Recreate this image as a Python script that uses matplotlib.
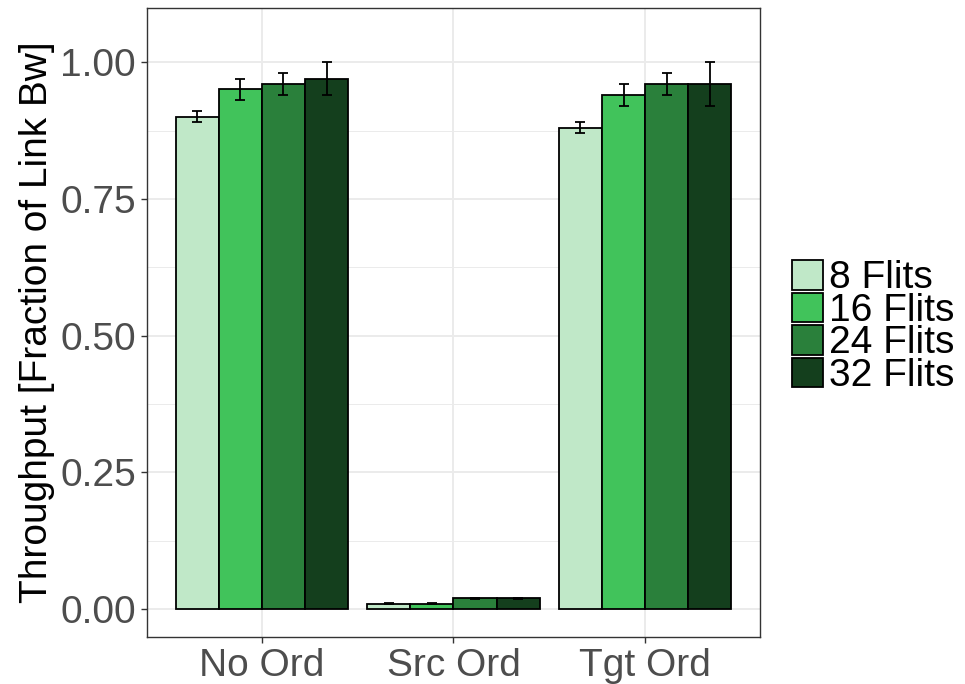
import numpy as np
import matplotlib.pyplot as plt
from matplotlib.patches import Patch
from matplotlib.ticker import MultipleLocator

plt.rcParams['font.family'] = ['Liberation Sans', 'DejaVu Sans']

groups = ["No Ord", "Src Ord", "Tgt Ord"]
sizes = ["8 Flits", "16 Flits", "24 Flits", "32 Flits"]
throughput = {
    "8 Flits": [0.90, 0.01, 0.88],
    "16 Flits": [0.95, 0.01, 0.94],
    "24 Flits": [0.96, 0.02, 0.96],
    "32 Flits": [0.97, 0.02, 0.96],
}
err = {
    "8 Flits": [0.01, 0.001, 0.01],
    "16 Flits": [0.02, 0.001, 0.02],
    "24 Flits": [0.02, 0.001, 0.02],
    "32 Flits": [0.03, 0.001, 0.04],
}
colors = ["#c0e8c8", "#41c35b", "#2a803b", "#143f1d"]

fig = plt.figure(figsize=(9.65, 6.84), dpi=100)
ax = fig.add_axes([147/965, 1-637/684, (760-147)/965, (637-8)/684])

x = np.arange(1, len(groups) + 1)
w = 0.225
for i, s in enumerate(sizes):
    pos = x + (i - 1.5) * w
    ax.bar(pos, throughput[s], width=w, color=colors[i], edgecolor="black",
           linewidth=1.3, zorder=3)
    ax.errorbar(pos, throughput[s], yerr=err[s], fmt="none", ecolor="black",
                elinewidth=1.3, capsize=3.3, capthick=1.3, zorder=4)

ax.set_xlim(0.4, 3.6)
ax.set_ylim(-0.051, 1.099)
ax.set_xticks(x)
ax.set_xticklabels(groups)
ax.yaxis.set_minor_locator(MultipleLocator(0.125))
ax.set_yticks([0, 0.25, 0.5, 0.75, 1.0])
ax.set_yticklabels(["0.00", "0.25", "0.50", "0.75", "1.00"])
ax.grid(which="major", color="#ebebeb", linewidth=1.4, zorder=0)
ax.grid(which="minor", axis="y", color="#ebebeb", linewidth=0.7, zorder=0)
ax.tick_params(which="major", labelsize=28, labelcolor="#4d4d4d", color="#333333",
               length=4, width=1, pad=4)
ax.tick_params(which="minor", length=0)
for sp in ax.spines.values():
    sp.set_color("#333333")
    sp.set_linewidth(1)
ax.set_ylabel("Throughput [Fraction of Link Bw]", fontsize=28, labelpad=4)

handles = [Patch(facecolor=c, edgecolor="black", linewidth=1.3) for c in colors]
fig.legend(handles, sizes, loc="center left", bbox_to_anchor=(792/965, 1-327/684),
           frameon=False, fontsize=28, handlelength=0.8, handleheight=0.8,
           handletextpad=0.15, labelspacing=-0.1, borderaxespad=0, borderpad=0)

fig.savefig("out.png", dpi=100)
